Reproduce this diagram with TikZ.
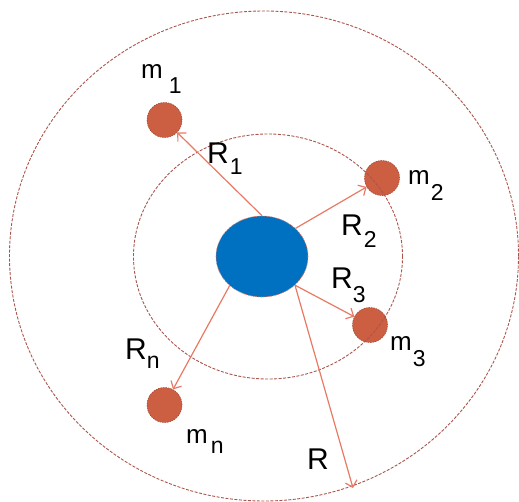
\documentclass[tikz,border=0pt]{standalone}
\usepackage{fontspec}
\setmainfont{Liberation Sans}
\usetikzlibrary{arrows.meta,shapes.geometric}
\definecolor{bluefill}{RGB}{0,112,192}
\definecolor{massfill}{RGB}{204,94,66}
\definecolor{massedge}{RGB}{165,72,52}
\definecolor{arrowc}{RGB}{232,122,100}
\definecolor{orbitc}{RGB}{170,85,75}
\newcommand{\lbl}[4]{#1\hspace{#4pt}\raisebox{-#3pt}{\fontsize{23}{23}\selectfont #2}}
\begin{document}
\begin{tikzpicture}[x=1pt,y=-1pt,
  mass/.style={circle,fill=massfill,draw=massedge,dash pattern=on 1.5pt off 1pt,line width=0.6pt,minimum size=35pt,inner sep=0pt},
  central/.style={ellipse,fill=bluefill,draw=arrowc,dash pattern=on 1.5pt off 1pt,line width=0.6pt,minimum width=92pt,minimum height=81pt,inner sep=0pt},
  orbit/.style={draw=orbitc,line width=0.9pt,dash pattern=on 3pt off 1.5pt},
  radius/.style={draw=arrowc,line width=1.2pt,-{Straight Barb[length=6pt,width=12pt,line width=1.2pt]}},
  mlab/.style={anchor=base west,inner sep=0pt,font=\fontsize{26}{30}\selectfont},
  rlab/.style={anchor=base west,inner sep=0pt,font=\fontsize{30}{34}\selectfont}]
\useasboundingbox (0,0) rectangle (519,501);
\node[mass] (m1) at (164.5,120) {};
\node[mass] (m2) at (382,178) {};
\node[mass] (m3) at (370,325) {};
\node[mass] (mn) at (164.5,405) {};
\draw[orbit] (264,256) ellipse [x radius=254.5pt, y radius=245pt];
\draw[orbit] (268,256.5) ellipse [x radius=134.5pt, y radius=122.5pt];
\node[central] (c) at (262,256.5) {};
\coordinate (rend) at (353,488);
\draw[radius] (c.north) -- (m1);
\draw[radius] (c.40) -- (m2);
\draw[radius] (c.-41) -- (m3);
\draw[radius] (c.222) -- (mn);
\draw[radius] (c.-41) -- (rend);
\node[mlab] (lm1) at (141,78) {\lbl{m}{1}{15}{6}};
\node[mlab] (lm2) at (408,184) {\lbl{m}{2}{16}{1}};
\node[mlab] (lm3) at (390,350) {\lbl{m}{3}{16}{1}};
\node[mlab] (lmn) at (186,443) {\lbl{m}{n}{10}{3}};
\node[rlab] (lr1) at (207,163) {\lbl{R}{1}{11}{1}};
\node[rlab] (lr2) at (341,235) {\lbl{R}{2}{12}{1}};
\node[rlab] (lr3) at (331,288) {\lbl{R}{3}{14}{0}};
\node[rlab] (lrn) at (125,359) {\lbl{R}{n}{9}{0}};
\node[rlab] (lr) at (307,469) {R};
\end{tikzpicture}
\end{document}
